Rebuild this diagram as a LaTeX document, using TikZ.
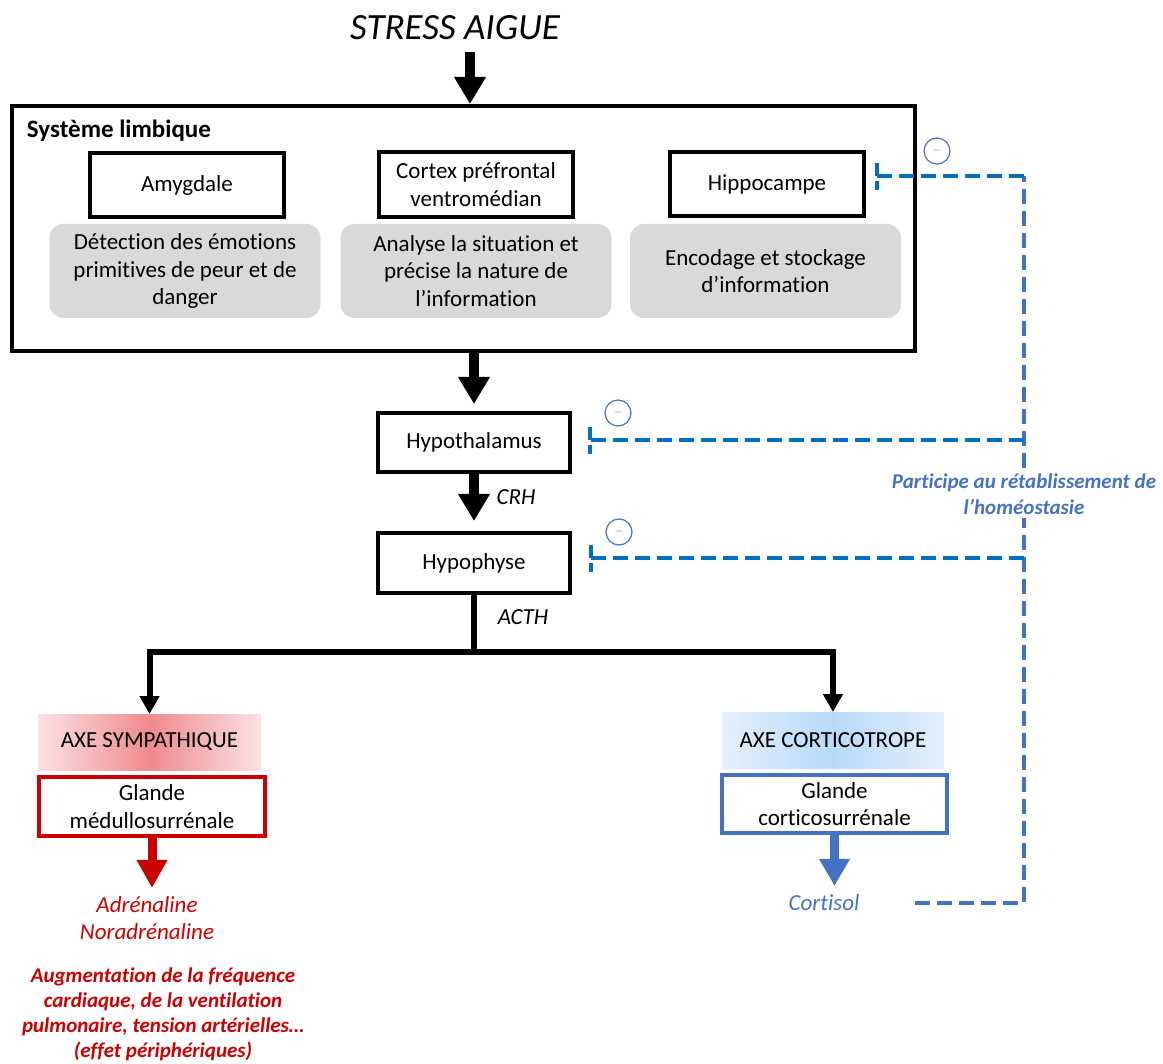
\documentclass[tikz,border=0pt]{standalone}
\usepackage{fontspec}
\setmainfont{Carlito}[Ligatures=NoCommon]
\usetikzlibrary{arrows.meta,calc}
\definecolor{graybg}{HTML}{D9D9D9}
\definecolor{redc}{HTML}{CC0000}
\definecolor{bluec}{HTML}{4472C4}
\definecolor{fbblue}{HTML}{0070C0}
\definecolor{pinkc}{RGB}{240,138,142}
\definecolor{pinke}{RGB}{251,226,227}
\definecolor{bluecc}{RGB}{184,218,250}
\definecolor{bluece}{RGB}{228,239,252}
\begin{document}
\begin{tikzpicture}[x=1pt,y=-1pt,
  every node/.style={inner sep=0pt, outer sep=0pt, align=center},
  fs/.style={font=\fontsize{23}{27.5}\selectfont},
  fsi/.style={font=\fontsize{23}{27}\selectfont\itshape},
  blackbox/.style={fs, draw=black, line width=4pt, minimum width=194pt, minimum height=64pt},
  graybox/.style={fs, fill=graybg, rounded corners=14pt, minimum width=271pt, minimum height=94pt},
  bigarrow/.style={line width=10pt, -{Triangle[length=27pt,width=30pt]}},
  branch/.style={line width=6pt},
  brancharrow/.style={line width=6pt, -{Triangle[length=18pt,width=19pt]}},
  fbv/.style={line width=4pt, bluec, dash pattern=on 15pt off 7pt},
  fbh/.style={line width=4pt, fbblue, dash pattern=on 15pt off 7pt},
  fbbar/.style={line width=4pt, fbblue, dash pattern=on 13pt off 5pt on 9pt off 30pt},
  minus/.style={circle, draw=bluec, line width=1.2pt, minimum size=26pt, inner sep=0pt, text=bluec, font=\fontsize{12}{12}\selectfont}
]
\useasboundingbox (0,0) rectangle (1163,1064);

% title
\node[font=\fontsize{37}{40}\selectfont\itshape] (title) at (455,28) {STRESS AIGUE};

% limbic system
\node[draw, line width=4pt, minimum width=903pt, minimum height=245pt] (limbic) at (463.5,228.5) {};
\node[font=\fontsize{25}{28}\selectfont\bfseries, anchor=west] (limlab) at (27,131) {Système limbique};
\node[blackbox] (amyg) at (187,185) {Amygdale};
\node[blackbox, minimum height=65pt] (cortex) at (476,184.5) {Cortex préfrontal\\ventromédian};
\node[blackbox] (hippo) at (767,184) {Hippocampe};
\node[graybox] (amygd) at (185,271) {Détection des émotions\\primitives de peur et de\\danger};
\node[graybox] (cortexd) at (476,271) {Analyse la situation et\\précise la nature de\\l’information};
\node[graybox] (hippod) at (765.5,271) {Encodage et stockage\\d’information};

% title arrow
\coordinate (ta) at (470,52);
\draw[bigarrow, shorten >=2pt] (ta) -- (ta |- limbic.north);

% axis
\node[blackbox, minimum width=192pt, minimum height=59pt] (hypoth) at (474,442.5) {Hypothalamus};
\node[blackbox, minimum width=192pt, minimum height=60pt] (hypoph) at (474,563) {Hypophyse};
\draw[bigarrow, shorten >=9pt] (limbic.south -| hypoth.north) -- (hypoth.north);
\draw[bigarrow, shorten >=12pt] (hypoth.south) -- (hypoph.north);
\node[fsi] (crh) at (516,497) {CRH};
\node[fsi] (acth) at (523,617) {ACTH};

% branches
\node[fs, minimum width=223pt, minimum height=56pt, left color=pinke, right color=pinke, middle color=pinkc] (axesym) at (149.5,742) {AXE SYMPATHIQUE};
\node[fs, minimum width=222pt, minimum height=56pt, left color=bluece, right color=bluece, middle color=bluecc] (axecort) at (833,740) {AXE CORTICOTROPE};
\path (hypoph.south) ++(0,59) coordinate (split);
\draw[branch] (hypoph.south) -- (split);
\draw[brancharrow] (split) -| (axesym.north);
\draw[brancharrow] (split) -| (axecort.north);

% sympathetic
\node[fs, draw=redc, line width=4pt, minimum width=226pt, minimum height=59pt] (glandmed) at (152,806.5) {Glande\\médullosurrénale};
\node[fsi, text=redc] (adren) at (147,918.5) {Adrénaline\\Noradrénaline};
\draw[line width=9pt, redc, -{Triangle[length=28pt,width=29pt]}, shorten >=9pt] (glandmed.south) -- (glandmed.south |- adren.north);
\node[font=\fontsize{21}{25}\selectfont\bfseries\itshape, text=redc] (aug) at (163,1014.5) {Augmentation de la fréquence\\cardiaque, de la ventilation\\pulmonaire, tension artérielles…\\(effet périphériques)};

% corticotrope
\node[fs, draw=bluec, line width=4pt, minimum width=225pt, minimum height=58pt] (glandcort) at (834.5,804) {Glande\\corticosurrénale};
\node[fsi, text=bluec] (cortisol) at (824,903) {Cortisol};
\draw[line width=9pt, bluec, -{Triangle[length=27pt,width=29pt]}, shorten >=9pt] (glandcort.south) -- (glandcort.south |- cortisol.north);

% feedback
\node[font=\fontsize{21}{26}\selectfont\bfseries\itshape, text=bluec] (part) at (1024,494) {Participe au rétablissement de\\l’homéostasie};
\coordinate (fb0) at (915,903);
\coordinate (brH) at (877,176);
\coordinate (brT) at (590,440);
\coordinate (brP) at (591,558);
\draw[fbv] (fb0) -- (fb0 -| part.south) -- ([yshift=-4pt]part.south);
\draw[fbv] ([yshift=6pt]part.north) -- (part.north |- brH);
\draw[fbh] (part.north |- brH) -- (brH);
\draw[fbh] (part.north |- brT) -- (brT);
\draw[fbh] (part.north |- brP) -- (brP);
\draw[fbbar] ([yshift=13pt]brH) -- ([yshift=-17pt]brH);
\draw[fbbar] ([yshift=13pt]brT) -- ([yshift=-17pt]brT);
\draw[fbbar] ([yshift=13pt]brP) -- ([yshift=-17pt]brP);
\node[minus] (m1) at (937,151) {$-$};
\node[minus] (m2) at (618,413) {$-$};
\node[minus] (m3) at (619,532) {$-$};
\end{tikzpicture}
\end{document}
